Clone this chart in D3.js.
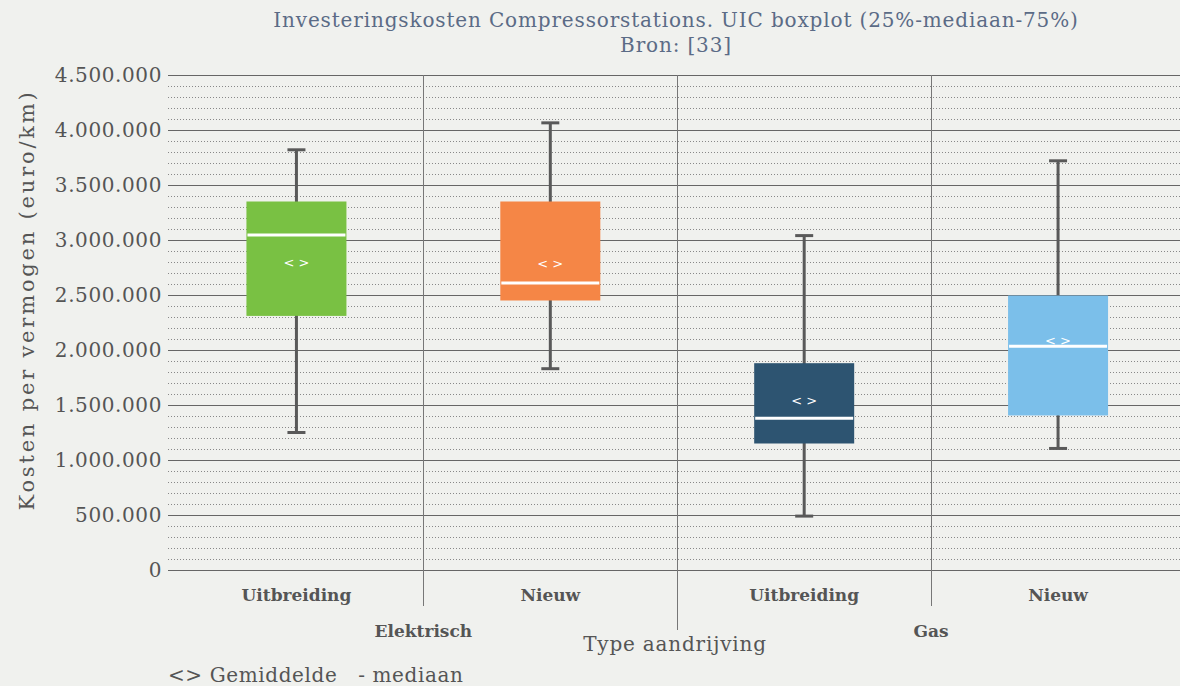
<!DOCTYPE html>
<html>
<head>
<meta charset="utf-8">
<script src="https://cdn.jsdelivr.net/npm/d3@7"></script>
<style>
  body { margin: 0; background: #f0f1ee; }
  svg { display: block; font-family: "DejaVu Serif", serif; }
</style>
</head>
<body>
<div id="graph"></div>
<script>
// categories
const groups = ["Elektrisch", "Elektrisch", "Gas", "Gas"];
const types = ["Uitbreiding", "Nieuw", "Uitbreiding", "Nieuw"];
// box values (euro/km)
const whiskerLow = [1250000, 1830000, 490000, 1105000];
const q1 = [2310000, 2450000, 1150000, 1405000];
const median = [3045000, 2610000, 1380000, 2035000];
const q3 = [3350000, 3350000, 1880000, 2495000];
const whiskerHigh = [3820000, 4065000, 3040000, 3720000];
const mean = [2800000, 2790000, 1540000, 2090000];
const colors = ["#79c143", "#f58646", "#2d5471", "#7bbfea"];
const yTicks = [0, 500000, 1000000, 1500000, 2000000, 2500000, 3000000, 3500000, 4000000, 4500000];

const width = 1180, height = 686;
const margins = { top: 75, right: -5, bottom: 116, left: 169.5 };

const svg = d3.select("#graph").append("svg")
    .attr("width", width)
    .attr("height", height);

const fmt = d3.formatLocale({ decimal: ",", thousands: ".", grouping: [3], currency: ["€", ""] }).format(",d");

const xScale = d3.scaleBand()
    .domain(d3.range(types.length))
    .range([margins.left, width - margins.right]);

const yScale = d3.scaleLinear()
    .domain([0, 4500000])
    .range([height - margins.bottom, margins.top]);

// minor dotted grid
const minor = d3.range(100000, 4500000, 100000).filter(d => d % 500000 !== 0);
svg.selectAll("line.minorGrid")
    .data(minor)
    .enter().append("line")
    .attr("x1", 168)
    .attr("x2", width)
    .attr("y1", d => Math.round(yScale(d)) + 0.5)
    .attr("y2", d => Math.round(yScale(d)) + 0.5)
    .attr("stroke", "#888")
    .attr("stroke-width", 1)
    .attr("stroke-dasharray", "1,2");

// major grid
svg.selectAll("line.majorGrid")
    .data(yTicks)
    .enter().append("line")
    .attr("x1", 168)
    .attr("x2", width)
    .attr("y1", d => Math.round(yScale(d)) + 0.5)
    .attr("y2", d => Math.round(yScale(d)) + 0.5)
    .attr("stroke", "#666")
    .attr("stroke-width", 1);

// category separators
d3.range(1, types.length).forEach(function(i) {
    const x = Math.round(xScale(i)) + 0.5;
    const groupBreak = groups[i] !== groups[i - 1];
    svg.append("line")
        .attr("x1", x).attr("x2", x)
        .attr("y1", margins.top)
        .attr("y2", groupBreak ? 630 : 606)
        .attr("stroke", "#777")
        .attr("stroke-width", 1);
});

// y tick labels
svg.selectAll("text.ytick")
    .data(yTicks)
    .enter().append("text")
    .attr("x", 162)
    .attr("y", d => yScale(d))
    .attr("dy", "0.35em")
    .attr("text-anchor", "end")
    .attr("fill", "#555")
    .style("font-size", "20px")
    .style("letter-spacing", "0.6px")
    .text(d => fmt(d));

const boxW = 100;
const idx = d3.range(types.length);
const cx = i => xScale(i) + xScale.bandwidth() / 2;

// whiskers
const wh = svg.selectAll("g.box").data(idx).enter().append("g");
wh.append("line")
    .attr("x1", cx).attr("x2", cx)
    .attr("y1", i => yScale(whiskerHigh[i]))
    .attr("y2", i => yScale(whiskerLow[i]))
    .attr("stroke", "#595959")
    .attr("stroke-width", 3);
wh.append("line")
    .attr("x1", i => cx(i) - 9).attr("x2", i => cx(i) + 9)
    .attr("y1", i => yScale(whiskerHigh[i]))
    .attr("y2", i => yScale(whiskerHigh[i]))
    .attr("stroke", "#595959")
    .attr("stroke-width", 3);
wh.append("line")
    .attr("x1", i => cx(i) - 9).attr("x2", i => cx(i) + 9)
    .attr("y1", i => yScale(whiskerLow[i]))
    .attr("y2", i => yScale(whiskerLow[i]))
    .attr("stroke", "#595959")
    .attr("stroke-width", 3);

// boxes
wh.append("rect")
    .attr("x", i => cx(i) - boxW / 2)
    .attr("y", i => yScale(q3[i]))
    .attr("width", boxW)
    .attr("height", i => yScale(q1[i]) - yScale(q3[i]))
    .attr("fill", i => colors[i]);

// median
wh.append("line")
    .attr("x1", i => cx(i) - boxW / 2 + 1).attr("x2", i => cx(i) + boxW / 2 - 1)
    .attr("y1", i => yScale(median[i]))
    .attr("y2", i => yScale(median[i]))
    .attr("stroke", "#fff")
    .attr("stroke-width", 3);

// mean marker
wh.append("text")
    .attr("x", cx)
    .attr("y", i => yScale(mean[i]))
    .attr("dy", "0.35em")
    .attr("text-anchor", "middle")
    .attr("fill", "#fff")
    .style("font-family", "'DejaVu Sans', sans-serif")
    .style("font-size", "13px")
    .text("< >");

// category labels
svg.selectAll("text.cat")
    .data(idx)
    .enter().append("text")
    .attr("x", cx)
    .attr("y", 601)
    .attr("text-anchor", "middle")
    .attr("fill", "#555")
    .style("font-size", "17px")
    .style("font-weight", "bold")
    .text(i => types[i]);

// group labels
const groupNames = Array.from(new Set(groups));
groupNames.forEach(function(g) {
    const members = idx.filter(i => groups[i] === g);
    const gx = (xScale(members[0]) + xScale(members[members.length - 1]) + xScale.bandwidth()) / 2;
    svg.append("text")
        .attr("x", gx)
        .attr("y", 637)
        .attr("text-anchor", "middle")
        .attr("fill", "#555")
        .style("font-size", "17px")
        .style("font-weight", "bold")
        .text(g);
});

// axis titles
svg.append("text")
    .attr("x", 675)
    .attr("y", 651)
    .attr("text-anchor", "middle")
    .attr("fill", "#555")
    .style("font-size", "20px")
    .style("letter-spacing", "0.8px")
    .text("Type aandrijving");

svg.append("text")
    .attr("transform", "rotate(-90)")
    .attr("x", -300)
    .attr("y", 34)
    .attr("text-anchor", "middle")
    .attr("fill", "#555")
    .style("font-size", "21px")
    .style("letter-spacing", "2.8px")
    .text("Kosten per vermogen (euro/km)");

// title
svg.append("text")
    .attr("x", 676)
    .attr("y", 27)
    .attr("text-anchor", "middle")
    .attr("fill", "#5b6b86")
    .style("font-size", "20px")
    .style("letter-spacing", "0.85px")
    .text("Investeringskosten Compressorstations. UIC boxplot (25%-mediaan-75%)");
svg.append("text")
    .attr("x", 676)
    .attr("y", 52)
    .attr("text-anchor", "middle")
    .attr("fill", "#5b6b86")
    .style("font-size", "20px")
    .style("letter-spacing", "0.85px")
    .text("Bron: [33]");

// legend
svg.append("text")
    .attr("x", 168)
    .attr("y", 682)
    .attr("fill", "#555")
    .style("font-size", "20px")
    .style("letter-spacing", "0.6px")
    .attr("xml:space", "preserve")
    .text("<> Gemiddelde   - mediaan");
</script>
</body>
</html>
